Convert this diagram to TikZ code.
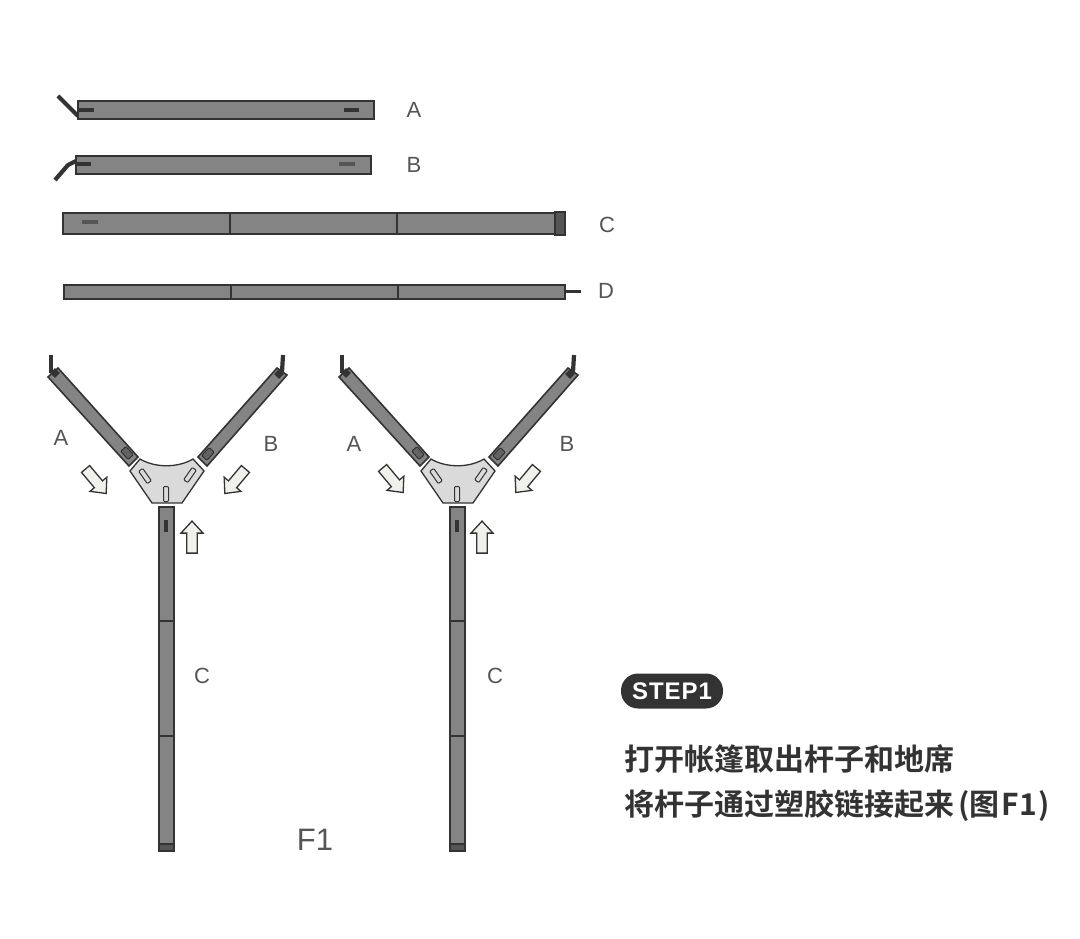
\documentclass[tikz,border=0pt]{standalone}
\usepackage{fontspec}
\setmainfont{Liberation Sans}
\newfontfamily\cjkfont[BoldFont={Noto Sans CJK SC Bold}]{Noto Sans CJK SC}
\usepackage{tikz}
\usetikzlibrary{calc,shapes,shapes.arrows,positioning}
\definecolor{polegray}{HTML}{848484}
\definecolor{linedark}{HTML}{333333}
\definecolor{capdark}{HTML}{555555}
\definecolor{platefill}{HTML}{DADADA}
\definecolor{arrowfill}{HTML}{F0F0EC}
\definecolor{labelgray}{HTML}{555555}
\tikzset{
  pole/.style={draw=linedark,fill=polegray,line width=1.6pt},
  divider/.style={draw=linedark,line width=2.4pt},
  hook/.style={draw=linedark,line width=4.2pt},
  slotmark/.style={rectangle,draw=none,fill=linedark,inner sep=0pt,minimum width=15pt,minimum height=4pt},
  plateslot/.style={rectangle,rounded corners=1pt,draw=linedark,fill=platefill,line width=1pt,inner sep=0pt,minimum width=15pt,minimum height=5pt},
  armslot/.style={rectangle,rounded corners=1pt,draw=linedark,fill=polegray!75!black,line width=1pt,inner sep=0pt,minimum width=11pt,minimum height=7pt},
  blockarrow/.style={single arrow,draw=linedark,fill=arrowfill,line width=1.3pt,inner sep=4.5pt,minimum width=22pt,minimum height=32pt,single arrow head extend=5.5pt,single arrow tip angle=85},
  letter/.style={text=labelgray,font=\fontsize{22}{22}\selectfont,inner sep=0pt},
  cjkline/.style={anchor=west,text=linedark,inner sep=0pt,font=\cjkfont\bfseries\fontsize{30}{30}\selectfont}
}
\begin{document}
\begin{tikzpicture}[x=1pt,y=-1pt]
  \useasboundingbox (0,0) rectangle (1080,939);

  % loose poles
  \draw[hook] (58,96) -- (78,116);
  \draw[pole] (78,101) rectangle (374,119);
  \draw[divider] (78,101) -- (78,119);
  \node[slotmark] (slotA1) at (86,110) {};
  \node[slotmark] (slotA2) at (351,110) {};

  \draw[hook] (55,180) -- (68,165) -- (76,161);
  \draw[pole] (76,156) rectangle (371,174);
  \draw[divider] (76,156) -- (76,174);
  \node[slotmark] (slotB1) at (83,164) {};
  \node[slotmark,minimum width=16pt,fill=capdark] (slotB2) at (347,164) {};

  \draw[pole] (63,213) rectangle (565,234);
  \draw[divider] (230,213) -- (230,234);
  \draw[divider] (397,213) -- (397,234);
  \draw[pole,fill=capdark] (555,212) rectangle (565,235);
  \node[slotmark,minimum width=16pt,fill=capdark] (slotC1) at (90,222) {};

  \draw[hook,line width=3pt] (565,291) -- (581,291);
  \draw[pole] (64,285) rectangle (565,299);
  \draw[divider] (231,285) -- (231,299);
  \draw[divider] (398,285) -- (398,299);

  \node[letter] (labA) at (414,110) {A};
  \node[letter] (labB) at (414,165) {B};
  \node[letter] (labC) at (607,225) {C};
  \node[letter] (labD) at (606,291) {D};

  % the two assembled frames
  \foreach \dx/\n in {0/l,291/r}{
    \begin{scope}[xshift=\dx pt]
      \draw[hook] (51,355) -- (51,373);
      \draw[hook] (283,355) -- (282,372);
      \draw[pole] (48,377) -- (58,368) -- (138,457) -- (129,466) -- cycle;
      \draw[pole] (198,457) -- (207,466) -- (287,375) -- (277,368) -- cycle;
      \draw[pole] (159,507) rectangle (174,851);
      \draw[divider,line width=1.2pt] (159,621) -- (174,621);
      \draw[divider,line width=1.2pt] (159,736) -- (174,736);
      \draw[pole,fill=capdark] (159,844) rectangle (174,851);
      \draw[draw=linedark,fill=platefill,line width=1.3pt]
        (140,459) .. controls (155,468) and (178,468) .. (193,459)
        -- (204,471) -- (182,503) -- (152,503) -- (130,471) -- cycle;
      \node[armslot,rotate=-48] (armA\n) at (127,453) {};
      \node[armslot,rotate=48] (armB\n) at (208,454) {};
      \node[plateslot,rotate=-55] (plA\n) at (145,476) {};
      \node[plateslot,rotate=55] (plB\n) at (190,475) {};
      \node[plateslot,rotate=90] (plC\n) at (166,494) {};
      \node[slotmark,rotate=90,minimum width=12pt] (stem\n) at (166,526) {};
      \node[rectangle,fill=linedark,inner sep=0pt,minimum size=7pt,rotate=45] (endA\n) at (55,373) {};
      \node[rectangle,fill=linedark,inner sep=0pt,minimum size=7pt,rotate=45] (endB\n) at (279,374) {};
    \end{scope}
  }

  \node[blockarrow,rotate=-50] (arrAl) at (94,479) {};
  \node[blockarrow,rotate=230] (arrBl) at (237,479) {};
  \node[blockarrow,rotate=90] (arrCl) at (192,540) {};
  \node[blockarrow,rotate=-50] (arrAr) at (391,478) {};
  \node[blockarrow,rotate=230] (arrBr) at (528,478) {};
  \node[blockarrow,rotate=90] (arrCr) at (482,540) {};

  \node[letter] (frameAl) at (61,438) {A};
  \node[letter] (frameBl) at (271,444) {B};
  \node[letter] (frameCl) at (202,676) {C};
  \node[letter] (frameAr) at (354,444) {A};
  \node[letter] (frameBr) at (567,444) {B};
  \node[letter] (frameCr) at (495,676) {C};
  \node[letter,font=\fontsize{31}{31}\selectfont] (figname) at (315,840) {F1};

  % caption
  \node[rectangle,rounded corners=17pt,fill=linedark,text=white,inner sep=0pt,minimum width=102pt,minimum height=35pt,font=\bfseries\addfontfeature{LetterSpace=4}\fontsize{24}{24}\selectfont] (step) at (672,691) {STEP1};
  \node[cjkline] (line1) at (624,759) {打开帐篷取出杆子和地席};
  \node[cjkline] (line2) at (624,806) {将杆子通过塑胶链接起来\hspace{4pt}(图\hspace{2pt}F1\hspace{2pt})};
\end{tikzpicture}
\end{document}
